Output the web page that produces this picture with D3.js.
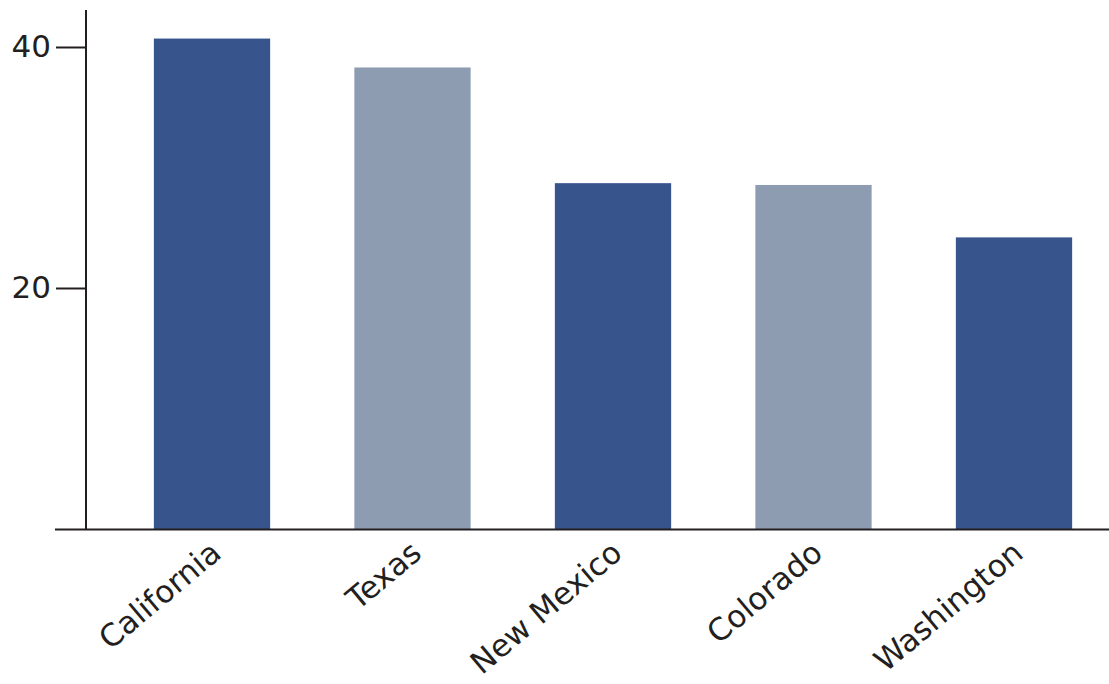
<!DOCTYPE html>
<html>
  <head>
    <meta charset="utf-8" />
    <title>States bar chart</title>
    <script src="https://d3js.org/d3.v7.min.js"></script>
    <style type="text/css">
      body { margin: 0; background: #fff; }
      .lbl { font-family: "DejaVu Sans", sans-serif; fill: #231f20; }
    </style>
  </head>
  <body>
    <div id="chart"></div>
    <script type="text/javascript">
      var states = ["California", "Texas", "New Mexico", "Colorado", "Washington"];
      var values = [40.7, 38.3, 28.7, 28.55, 24.2];
      var colors = ["#37558c", "#8e9cb2", "#37558c", "#8e9cb2", "#37558c"];
      var yTicks = [20, 40];

      var width = 1109, height = 684;
      var svg = d3.select("#chart").append("svg")
          .attr("width", width)
          .attr("height", height);

      var x = d3.scaleBand()
          .domain(states)
          .range([111.75, 1114.25])
          .paddingInner(0.42)
          .paddingOuter(0.21);

      var y = d3.scaleLinear()
          .domain([0, 43.07])
          .range([529, 10]);

      // bars
      svg.selectAll("rect")
          .data(states)
          .enter()
          .append("rect")
          .attr("x", function(d) { return x(d); })
          .attr("width", x.bandwidth())
          .attr("y", function(d, i) { return y(values[i]); })
          .attr("height", function(d, i) { return y(0) - y(values[i]); })
          .style("fill", function(d, i) { return colors[i]; });

      // y axis
      var yAxis = svg.append("g")
          .attr("transform", "translate(86,0)")
          .call(d3.axisLeft(y).tickValues(yTicks).tickSize(30).tickPadding(5));
      yAxis.select(".domain").remove();
      yAxis.selectAll("line").attr("stroke", "#231f20").attr("stroke-width", 2);
      yAxis.selectAll("text")
          .attr("class", "lbl")
          .style("font-size", "31px")
          .attr("font-family", null);
      svg.append("line")
          .attr("x1", 86).attr("x2", 86)
          .attr("y1", y.range()[1]).attr("y2", y(0))
          .attr("stroke", "#231f20").attr("stroke-width", 2);

      // x axis
      svg.append("line")
          .attr("x1", 55).attr("x2", width)
          .attr("y1", y(0) + 0.5).attr("y2", y(0) + 0.5)
          .attr("stroke", "#231f20").attr("stroke-width", 2);

      svg.selectAll(".xlab")
          .data(states)
          .enter()
          .append("text")
          .attr("class", "lbl xlab")
          .attr("text-anchor", "end")
          .style("font-size", "31px")
          .attr("transform", function(d) {
            return "translate(" + (x(d) + x.bandwidth() / 2 + 11) + "," + (y(0) + 27) + ") rotate(-40)";
          })
          .text(function(d) { return d; });
    </script>
  </body>
</html>
